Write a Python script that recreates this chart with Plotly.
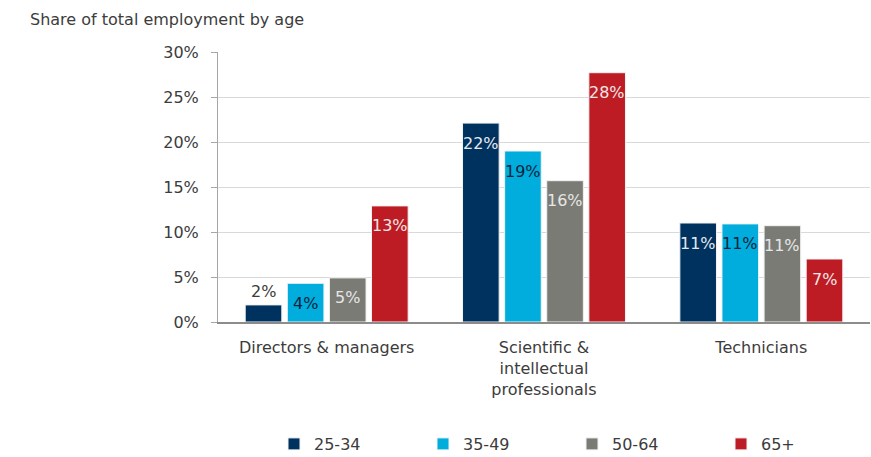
import plotly.graph_objects as go

# Occupational groups and age bands
categories = ["Directors & managers", "Scientific &<br>intellectual<br>professionals", "Technicians"]
age_groups = ["25-34", "35-49", "50-64", "65+"]

# Share of total employment (%) by age band, per occupational group
share_25_34 = [1.9, 22.1, 11.0]
share_35_49 = [4.3, 19.0, 10.9]
share_50_64 = [4.9, 15.7, 10.7]
share_65_plus = [12.9, 27.7, 7.0]

series = [share_25_34, share_35_49, share_50_64, share_65_plus]
bar_colors = ["#00325F", "#00ADDC", "#7B7B75", "#BD1C24"]
label_colors = ["#E6E9EE", "#0B2540", "#E6E6E6", "#F2E6E6"]

FONT = "DejaVu Sans"
TEXT = "#3C3C3C"
BARGAP = 0.225
N = len(age_groups)

fig = go.Figure()
for name, vals, col in zip(age_groups, series, bar_colors):
    fig.add_trace(go.Bar(
        name=name, x=categories, y=vals,
        marker=dict(color=col, line=dict(color="#F2F2F2", width=1)),
        hoverinfo="skip",
    ))

# Value labels: inside near the top, or just above very short bars
slot = (1 - BARGAP) / N
for j, (vals, lcol) in enumerate(zip(series, label_colors)):
    for i, v in enumerate(vals):
        outside = v < 3
        fig.add_annotation(
            x=i + (j - (N - 1) / 2) * slot, y=v, xref="x", yref="y",
            text=f"{round(v):d}%", showarrow=False,
            yshift=13 if outside else -20,
            font=dict(family=FONT, size=16, color=TEXT if outside else lcol),
        )

fig.update_layout(
    width=871, height=457,
    margin=dict(l=218, r=1, t=52, b=135),
    paper_bgcolor="white", plot_bgcolor="white",
    barmode="group", bargap=BARGAP, bargroupgap=0.13,
    font=dict(family=FONT, size=16, color=TEXT),
    title=dict(
        text="Share of total employment by age",
        x=30 / 871, xref="container", xanchor="left",
        y=1 - 19 / 457, yref="container", yanchor="middle",
        font=dict(family=FONT, size=16, color=TEXT),
    ),
    showlegend=True,
    legend=dict(
        orientation="h", xref="container", yref="container",
        x=274 / 871, xanchor="left", y=1 - 444 / 457, yanchor="middle",
        entrywidth=104, entrywidthmode="pixels",
        font=dict(family=FONT, size=16, color=TEXT),
        traceorder="normal",
    ),
    xaxis=dict(
        showline=True, linecolor="#8C8C8C", linewidth=1.5,
        ticks="", tickfont=dict(family=FONT, size=16, color=TEXT),
        ticklabelstandoff=10, showgrid=False,
    ),
    yaxis=dict(
        range=[0, 30], dtick=5, ticksuffix="%",
        showline=True, linecolor="#A6A6A6", linewidth=1,
        ticks="outside", ticklen=6, tickcolor="#A6A6A6",
        ticklabelstandoff=9,
        showgrid=True, gridcolor="#D9D9D9", gridwidth=1,
        zeroline=False,
        tickfont=dict(family=FONT, size=16, color=TEXT),
    ),
)

fig.write_html("out.html")
